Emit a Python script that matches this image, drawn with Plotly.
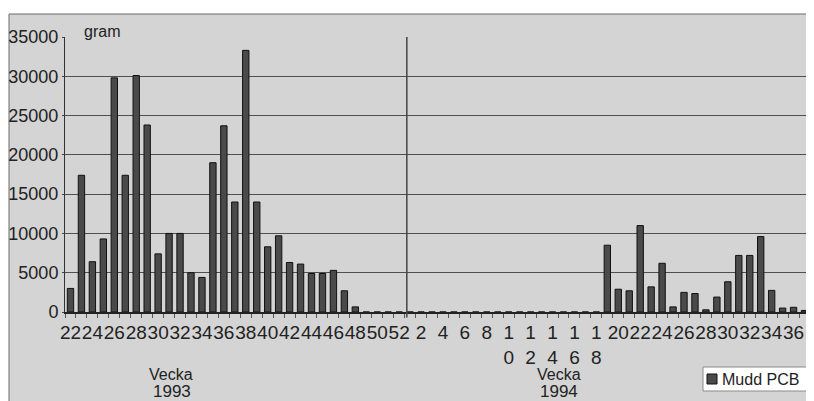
import plotly.graph_objects as go

# ---- data ----
weeks_1993 = [22, 23, 24, 25, 26, 27, 28, 29, 30, 31, 32, 33, 34, 35, 36, 37,
              38, 39, 40, 41, 42, 43, 44, 45, 46, 47, 48, 49, 50, 51, 52]
values_1993 = [3000, 17400, 6400, 9300, 29800, 17400, 30100, 23800, 7400, 10000,
               10000, 5000, 4400, 19000, 23700, 14000, 33300, 14000, 8300, 9700,
               6300, 6100, 4900, 4900, 5300, 2700, 650, 0, 0, 0, 0]

weeks_1994 = [1, 2, 3, 4, 5, 6, 7, 8, 9, 10, 11, 12, 13, 14, 15, 16, 17, 18, 19,
              20, 21, 22, 23, 24, 25, 26, 27, 28, 29, 30, 31, 32, 33, 34, 35, 36, 37]
values_1994 = [0, 0, 0, 0, 0, 0, 0, 0, 0, 0, 0, 0, 0, 0, 0, 0, 0, 0,
               8500, 2900, 2700, 11000, 3200, 6200, 650, 2500, 2350, 280, 1900,
               3850, 7200, 7200, 9600, 2750, 500, 600, 200]

tick_labels_1993 = ["22", "24", "26", "28", "30", "32", "34", "36", "38", "40",
                    "42", "44", "46", "48", "50", "52"]
tick_labels_1994 = ["2", "4", "6", "8", "1<br>0", "1<br>2", "1<br>4", "1<br>6",
                    "1<br>8", "20", "22", "24", "26", "28", "30", "32", "34", "36"]
labelled_weeks_1993 = [22, 24, 26, 28, 30, 32, 34, 36, 38, 40, 42, 44, 46, 48, 50, 52]
labelled_weeks_1994 = [2, 4, 6, 8, 10, 12, 14, 16, 18, 20, 22, 24, 26, 28, 30, 32, 34, 36]

series_name = "Mudd PCB"
y_unit = "gram"
x_title = "Vecka"
years = ["1993", "1994"]
y_ticks = [0, 5000, 10000, 15000, 20000, 25000, 30000, 35000]
y_tick_labels = ["0", "5000", "10000", "15000", "20000", "25000", "30000", "35000"]

# ---- build positions ----
values = values_1993 + values_1994
xs = list(range(len(values)))
n93 = len(weeks_1993)
tickvals = [weeks_1993.index(w) for w in labelled_weeks_1993] + \
           [n93 + weeks_1994.index(w) for w in labelled_weeks_1994]
ticktext = tick_labels_1993 + tick_labels_1994
boundaries = [i + 0.5 for i in range(-1, len(values))]

FONT = "Liberation Sans, Arial, sans-serif"
BAR_FILL = "#4a4a4a"
BAR_EDGE = "#111111"

fig = go.Figure()
fig.add_trace(go.Bar(
    x=xs, y=values, name=series_name,
    marker=dict(color=BAR_FILL, line=dict(color=BAR_EDGE, width=1)),
    showlegend=False,
))

# page is offset by the 8px body margin
OFF = 8
W, H = 814 - OFF, 401 - OFF
PL, PR, PT, PB = 65, 810, 37, 312   # plot area in page pixels
L, T = PL - OFF, PT - OFF
R = W - (PR - OFF)
B = H - (PB - OFF)
pw, ph = PR - PL, PB - PT


def px(xp):
    return (xp - PL) / pw


def py(yp):
    return (PB - yp) / ph


fig.update_layout(
    width=W, height=H,
    margin=dict(l=L, r=R, t=T, b=B, autoexpand=False),
    paper_bgcolor="#ffffff",
    plot_bgcolor="#d3d5d6",
    bargap=0.42,
    font=dict(family=FONT, color="#222222"),
    showlegend=False,
    xaxis=dict(
        range=[-0.5, len(values) - 0.5],
        tickmode="array", tickvals=tickvals, ticktext=ticktext,
        tickangle=0, ticks="", ticklabelstandoff=2,
        tickfont=dict(size=19, color="#222222"),
        showgrid=False, zeroline=False,
        showline=True, linecolor="#222222", linewidth=2, mirror=False,
        minor=dict(tickmode="array", tickvals=boundaries, ticks="outside",
                   ticklen=4, tickcolor="#555555", showgrid=False),
    ),
    yaxis=dict(
        range=[0, 35000], tickmode="array", tickvals=y_ticks,
        ticktext=y_tick_labels,
        ticks="outside", ticklen=2, tickcolor="#444444",
        tickfont=dict(size=18, color="#222222"),
        showgrid=True, gridcolor="#4f4f4f", gridwidth=1,
        zeroline=False,
        showline=True, linecolor="#333333", linewidth=1, mirror=True,
    ),
    shapes=[
        # outer chart frame
        dict(type="rect", xref="paper", yref="paper",
             x0=px(9), x1=px(813), y0=py(402), y1=py(14),
             fillcolor="#d4d4d4", line=dict(color="#6a6a6a", width=1),
             layer="below"),
        # divider between the two years
        dict(type="line", xref="x", yref="paper",
             x0=n93 - 0.5 + 0.2, x1=n93 - 0.5 + 0.2, y0=-0.02, y1=1,
             line=dict(color="#444444", width=1.5)),
        # legend box and swatch
        dict(type="rect", xref="paper", yref="paper",
             x0=px(703), x1=px(808), y0=py(391), y1=py(367),
             fillcolor="#ffffff", line=dict(color="#8a8a8a", width=1)),
        dict(type="rect", xref="paper", yref="paper",
             x0=px(707), x1=px(717), y0=py(384), y1=py(374),
             fillcolor=BAR_FILL, line=dict(color=BAR_EDGE, width=1)),
    ],
    annotations=[
        dict(text=y_unit, xref="paper", yref="paper", x=px(82), y=py(31),
             xanchor="left", yanchor="middle", showarrow=False,
             font=dict(size=16, color="#222222")),
        dict(text=x_title, xref="paper", yref="paper", x=px(171),
             y=py(374), xanchor="center", yanchor="middle", showarrow=False,
             font=dict(size=16, color="#222222")),
        dict(text=years[0], xref="paper", yref="paper", x=px(172),
             y=py(391), xanchor="center", yanchor="middle", showarrow=False,
             font=dict(size=17, color="#222222")),
        dict(text=x_title, xref="paper", yref="paper", x=px(559),
             y=py(374), xanchor="center", yanchor="middle", showarrow=False,
             font=dict(size=16, color="#222222")),
        dict(text=years[1], xref="paper", yref="paper", x=px(559),
             y=py(391), xanchor="center", yanchor="middle", showarrow=False,
             font=dict(size=17, color="#222222")),
        dict(text=series_name, xref="paper", yref="paper", x=px(720),
             y=py(379), xanchor="left", yanchor="middle", showarrow=False,
             font=dict(size=16, color="#222222")),
    ],
)

fig.write_html("out.html")
